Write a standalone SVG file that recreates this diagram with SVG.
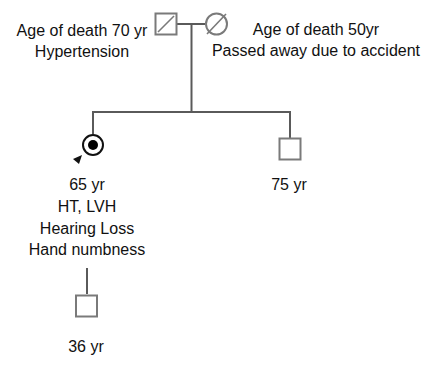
<svg xmlns="http://www.w3.org/2000/svg" width="430" height="371" viewBox="0 0 430 371">
<style>
.t{font-family:"Liberation Sans",Arial,sans-serif;font-size:16px;fill:#111;text-anchor:middle}
.sym{fill:#fff;stroke:#7a7a7a;stroke-width:2}
.ln{fill:none;stroke:#5a5a5a;stroke-width:2}
.sl{stroke:#7a7a7a;stroke-width:1.6}
</style>
<rect width="430" height="371" fill="#fff"/>
<g id="connectors">
<line class="ln" x1="176" y1="24" x2="205" y2="24"/>
<line class="ln" x1="191.5" y1="24" x2="191.5" y2="112"/>
<line class="ln" x1="92" y1="112" x2="290" y2="112"/>
<line class="ln" x1="93" y1="111" x2="93" y2="134"/>
<line class="ln" x1="290" y1="111" x2="290" y2="138"/>
<line class="ln" x1="87" y1="268" x2="87" y2="294"/>
</g>
<g id="father">
<rect class="sym" x="155.5" y="13.5" width="21" height="21"/>
<line class="sl" x1="158" y1="32" x2="174" y2="16"/>
<text class="t" x="82" y="36">Age of death 70 yr</text>
<text class="t" x="82" y="57">Hypertension</text>
</g>
<g id="mother">
<circle class="sym" cx="216.5" cy="24" r="10.5"/>
<line class="sl" x1="207" y1="34" x2="226" y2="14"/>
<text class="t" x="316" y="35">Age of death 50yr</text>
<text class="t" x="316" y="56">Passed away due to accident</text>
</g>
<g id="proband">
<circle cx="93" cy="145" r="10" fill="#fff" stroke="#111" stroke-width="2"/>
<circle cx="93" cy="145" r="5" fill="#000"/>
<polygon points="82,155 73,159 79,164" fill="#111"/>
<text class="t" x="87" y="190">65 yr</text>
<text class="t" x="87" y="212">HT, LVH</text>
<text class="t" x="87" y="234">Hearing Loss</text>
<text class="t" x="87" y="255">Hand numbness</text>
</g>
<g id="brother">
<rect class="sym" x="279.5" y="138.5" width="21" height="21"/>
<text class="t" x="289" y="190">75 yr</text>
</g>
<g id="child">
<rect class="sym" x="76" y="295.5" width="21" height="21"/>
<text class="t" x="86" y="352">36 yr</text>
</g>
</svg>
